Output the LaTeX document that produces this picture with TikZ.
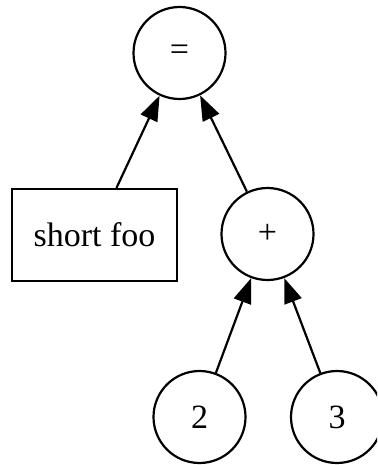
\documentclass[tikz,border=0pt]{standalone}
\usepackage{fontspec}
\setmainfont{Liberation Serif}
\usetikzlibrary{arrows.meta,positioning}

\begin{document}
\begin{tikzpicture}[font=\fontsize{34}{40}\selectfont,
  c/.style={draw,circle,line width=2.2pt,minimum size=92pt,inner sep=0pt},
  r/.style={draw,rectangle,line width=2.2pt,minimum width=165pt,minimum height=92pt},
  a/.style={-{Triangle[length=25pt,width=18pt]},line width=2.2pt},
  on grid]
  \clip (0,0) rectangle (377pt,-465pt);
  \node[c] (eq) at (179.5pt,-53pt) {=};
  \node[r,below left=182pt and 85pt of eq] (foo) {short foo};
  \node[c,below right=181pt and 88pt of eq] (plus) {+};
  \node[c,below left=183pt and 68pt of plus] (two) {2};
  \node[c,below right=183pt and 69.5pt of plus] (three) {3};
  \draw[a] (foo)--(eq); \draw[a] (plus)--(eq);
  \draw[a] (two)--(plus); \draw[a] (three)--(plus);
\end{tikzpicture}
\end{document}
